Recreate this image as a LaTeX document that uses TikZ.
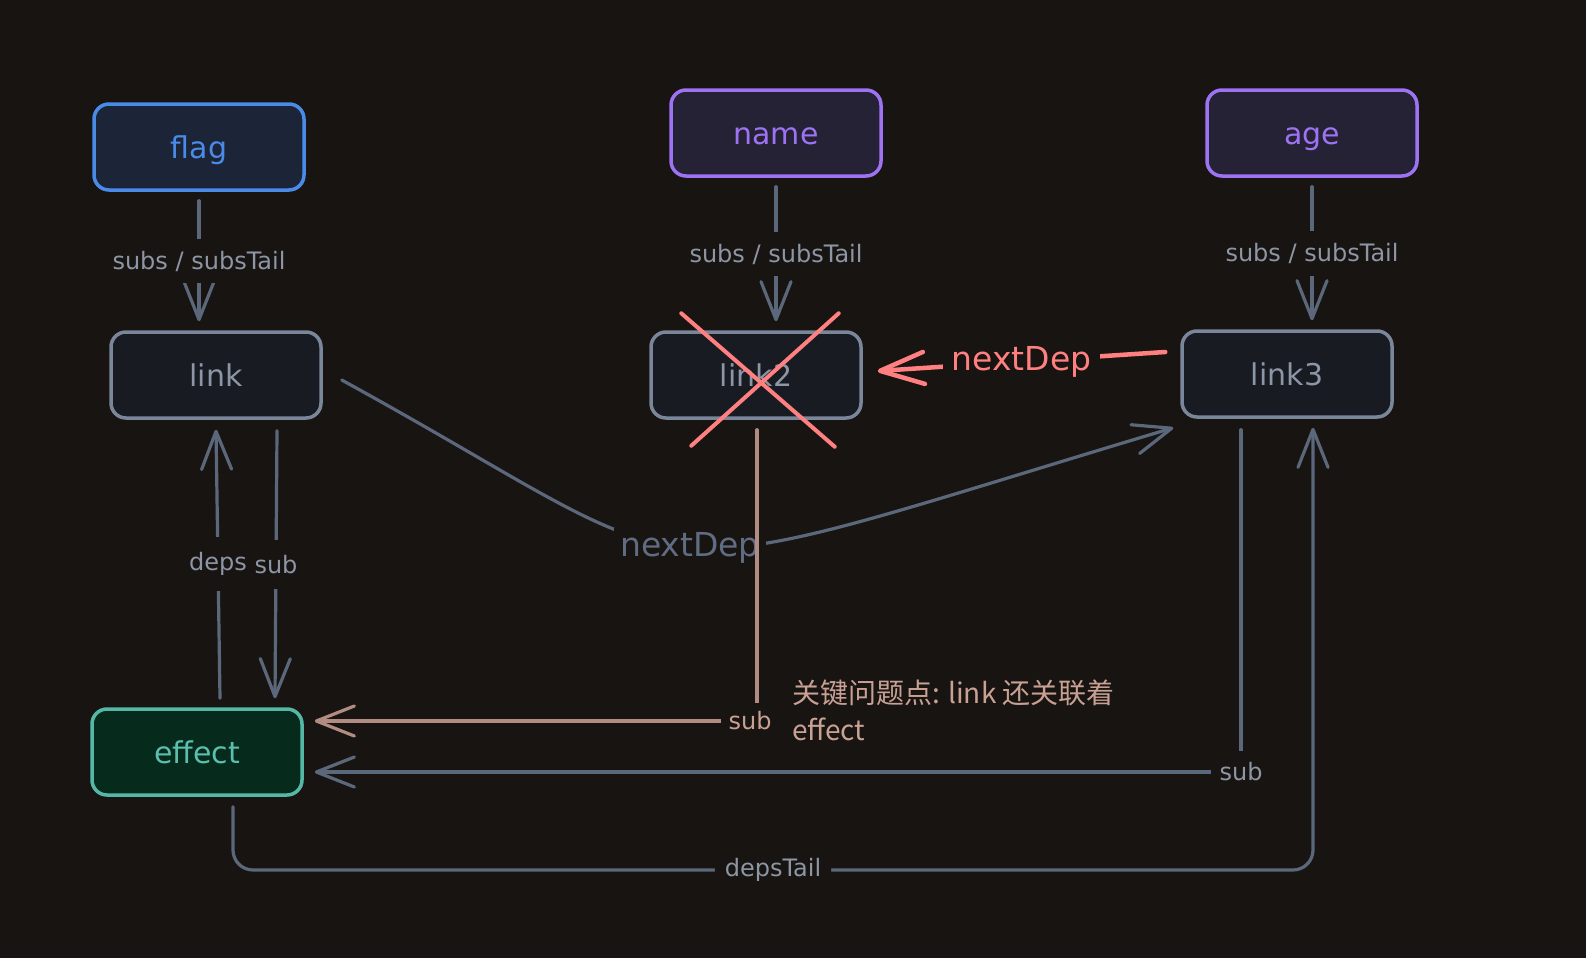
\documentclass[tikz,border=0pt]{standalone}
\usepackage{fontspec}
\setmainfont{DejaVu Sans}
\newfontfamily\cjkfont{Noto Sans CJK SC}
\usetikzlibrary{arrows.meta,calc}
\definecolor{bgc}{HTML}{181411}
\definecolor{greyline}{HTML}{5B677A}
\definecolor{greytext}{HTML}{8D96A5}
\definecolor{boxgrey}{HTML}{7A8699}
\definecolor{boxfill}{HTML}{181B21}
\definecolor{linktext}{HTML}{8C96A6}
\definecolor{flagc}{HTML}{4A8BE8}
\definecolor{flagfill}{HTML}{1C2538}
\definecolor{purplec}{HTML}{9D73F3}
\definecolor{purplefill}{HTML}{252235}
\definecolor{effectc}{HTML}{55B8A6}
\definecolor{effectfill}{HTML}{062A1B}
\definecolor{effecttext}{HTML}{5BBFAD}
\definecolor{redc}{HTML}{FF8080}
\definecolor{brownc}{HTML}{B08C82}
\definecolor{browntext}{HTML}{C8A194}
\definecolor{nextgrey}{HTML}{5F6C81}
\newcommand{\fsz}[1]{\fontsize{#1}{#1}\selectfont}
\begin{document}
\begin{tikzpicture}[x=1pt,y=-1pt,
  box/.style={rounded corners=15pt, line width=3.5pt, minimum width=210pt, minimum height=86pt, font=\fsz{30}, text height=25pt, text depth=2pt},
  graybox/.style={box, draw=boxgrey, fill=boxfill, text=linktext},
  flagbox/.style={box, draw=flagc, fill=flagfill, text=flagc},
  purplebox/.style={box, draw=purplec, fill=purplefill, text=purplec},
  effectbox/.style={box, draw=effectc, fill=effectfill, text=effecttext},
  conn/.style={line width=3.2pt, draw=greyline, line cap=round},
  arr/.style={conn, -{Straight Barb[length=38pt,width=30pt,round]}},
  lbl/.style={fill=bgc, text=greytext, font=\fsz{24}, inner xsep=4pt, inner ysep=12pt},
  bigl/.style={fill=bgc, font=\fsz{33}, inner xsep=6pt, inner ysep=4pt},
  redarr/.style={line width=4.5pt, draw=redc, line cap=round, -{Straight Barb[length=44pt,width=32pt,round]}},
  redx/.style={line width=4pt, draw=redc, line cap=round},
  brownarr/.style={line width=3.2pt, draw=brownc, line cap=round, -{Straight Barb[length=38pt,width=30pt,round]}}
]
\fill[bgc] (0,0) rectangle (1586,958);
\useasboundingbox (0,0) rectangle (1586,958);

% nodes
\node[flagbox] (flag) at (199,147) {flag};
\node[purplebox] (name) at (776,133) {name};
\node[purplebox] (age) at (1312,133) {age};
\node[graybox] (link) at (216,375) {link};
\node[graybox] (link2) at (756,375) {link2};
\node[graybox] (link3) at (1287,374) {link3};
\node[effectbox] (effect) at (197,752) {effect};

% subs / subsTail
\draw[arr] ($(flag.south)+(0,9)$) -- node[lbl]{subs / subsTail} ($(flag.south |- link.north)+(0,-9)$);
\draw[arr] ($(name.south)+(0,9)$) -- node[lbl]{subs / subsTail} ($(name.south |- link2.north)+(0,-9)$);
\draw[arr] ($(age.south)+(0,9)$) -- node[lbl]{subs / subsTail} ($(age.south |- link3.north)+(0,-9)$);

% deps / sub between link and effect
\draw[arr] ($(link.south |- effect.north)+(4,-9)$) -- node[lbl, inner ysep=15pt, inner xsep=3pt]{deps} ($(link.south)+(0,10)$);
\draw[arr] ($(link.south)+(61,11)$) -- node[lbl, inner ysep=15pt, inner xsep=3pt]{sub} ($(link.south |- effect.north)+(59,-9)$);

% nextDep curve link -> link3
\draw[arr] ($(link.east)+(19,5)$) .. controls (730,593) and (605,598) .. ($(link3.south west)+(-7,9)$)
  node[pos=0.5, bigl, text=nextgrey]{nextDep};

% red nextDep link3 -> link2
\draw[redarr] ($(link3.west)+(-15,-22)$) -- node[bigl, text=redc, inner xsep=9pt]{nextDep} ($(link2.east)+(15,-4)$);

% red cross over link2
\draw[redx] ($(link2.north west)+(32,-17)$) -- ($(link2.south east)+(-28,27)$);
\draw[redx] ($(link2.north east)+(-24,-17)$) -- ($(link2.south west)+(42,26)$);

% link2 -> effect (brown)
\draw[brownarr] ($(link2.south)+(1,10)$) |- node[pos=0.5, fill=bgc, text=browntext, font=\fsz{24}, inner xsep=8pt, inner ysep=9pt, xshift=-7pt]{sub} ($(effect.east)+(11,-31)$);

% link3 -> effect (grey)
\draw[arr] ($(link3.south)+(-46,11)$) |- node[pos=0.5, lbl, inner xsep=9pt, inner ysep=12pt]{sub} ($(effect.east)+(11,20)$);

% effect -> link3 depsTail
\draw[arr, rounded corners=20pt] ($(effect.south)+(36,10)$) |- (773,870) node[lbl, inner xsep=10pt, inner ysep=6pt]{depsTail} -| ($(link3.south)+(26,9)$);

% annotation
\node[anchor=north west, align=left, text=browntext, font=\cjkfont\fontsize{28}{37}\selectfont, inner sep=0pt] (note) at (792,680)
  {关键问题点: link 还关联着\\effect};
\end{tikzpicture}
\end{document}
